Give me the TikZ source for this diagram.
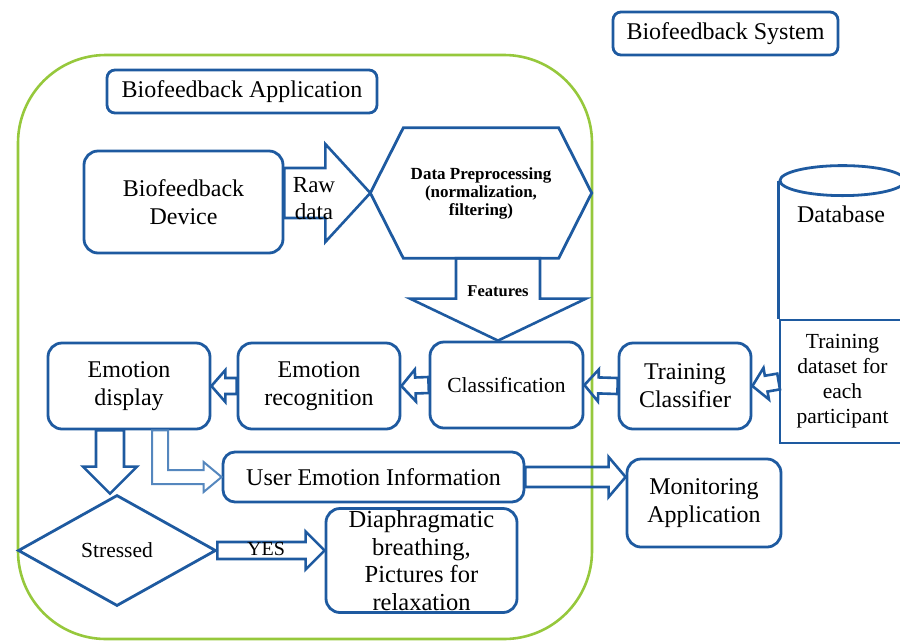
\documentclass[tikz,border=0pt]{standalone}
\usepackage{fontspec}
\setmainfont{Liberation Serif}
\usepackage{tikz}
\usetikzlibrary{
    calc,
    positioning,
    shapes.geometric
}
\definecolor{boxblue}{RGB}{30,90,160}
\definecolor{lightblue}{RGB}{85,135,190}
\definecolor{appgreen}{RGB}{150,200,60}

\newcommand{\blockarrow}[6][]{%
    \coordinate (ba-h) at ($(#3)!#6!(#2)$);
    \draw[arrowline, #1] ($(#2)!#4!90:(#3)$) -- ($(ba-h)!#4!90:(#3)$)
        -- ($(ba-h)!#5!90:(#3)$) -- (#3) -- ($(ba-h)!#5!-90:(#3)$)
        -- ($(ba-h)!#4!-90:(#3)$) -- ($(#2)!#4!-90:(#3)$) -- cycle;
}

\begin{document}
\begin{tikzpicture}[x=1pt, y=-1pt,
    box/.style={draw=boxblue, line width=2.8pt, rounded corners=14pt, align=center,
        inner sep=0pt, font=\fontsize{24}{28}\selectfont},
    boxline/.style={draw=boxblue, line width=2.8pt, line join=miter},
    arrowline/.style={draw=boxblue, line width=2.6pt, line join=miter},
    small/.style={font=\fontsize{21.5}{25}\selectfont}]
    \useasboundingbox (0,0) rectangle (900,641);
    \draw[appgreen, line width=2.6pt, rounded corners=88pt] (18,55) rectangle (592,639);

    \node[box, rounded corners=8pt, minimum width=225, minimum height=43] (sys) at (725.5,33.5) {Biofeedback System};
    \node[box, rounded corners=8pt, minimum width=270, minimum height=43] (app) at (242,91.5) {Biofeedback Application};
    \node[box, minimum width=199, minimum height=102] (dev) at (183.5,202) {Biofeedback\\Device};
    \node[minimum width=221, minimum height=130, inner sep=0pt, align=center,
        font=\bfseries\fontsize{17}{18}\selectfont] (prep) at (481,193) {Data Preprocessing\\(normalization,\\filtering)};
    \node[box, small, minimum width=153, minimum height=86] (cls) at (506.5,385) {Classification};
    \node[box, minimum width=162, minimum height=86] (rec) at (319,386) {Emotion\\recognition};
    \node[box, minimum width=162, minimum height=86] (disp) at (129,386) {Emotion\\display};
    \node[box, minimum width=132, minimum height=86] (tc) at (685,386) {Training\\Classifier};
    \node[box, small, rounded corners=0pt, minimum width=125, minimum height=123] (tds) at (842.5,381.5) {Training\\dataset for\\each\\participant};
    \node[font=\fontsize{24}{28}\selectfont] (db) at (841,214) {Database};
    \node[box, rounded corners=12pt, minimum width=301, minimum height=50] (uei) at (373.5,477) {User Emotion Information};
    \node[box, minimum width=154, minimum height=88] (mon) at (704,503) {Monitoring\\Application};
    \node[diamond, draw=boxblue, line width=2.8pt, minimum width=198, minimum height=111, inner sep=0pt,
        font=\fontsize{21.5}{24}\selectfont] (stress) at (117,550.5) {Stressed};
    \node[box, minimum width=191, minimum height=104] (relax) at (421.5,560.5) {};
    \node[align=center, font=\fontsize{24.5}{27.7}\selectfont] (relaxtxt) at (relax.center) {Diaphragmatic\\breathing,\\Pictures for\\relaxation};

    \draw[boxline] (prep.west) -- ($(prep.north west)+(33,0)$) -- ($(prep.north east)+(-33,0)$)
        -- (prep.east) -- ($(prep.south east)+(-33,0)$) -- ($(prep.south west)+(33,0)$) -- cycle;
    \draw[boxline] ($(tds.north west)+(0,-138)$) -- (tds.north west);
    \draw[boxline] ($(tds.north east)+(0,-138)$) -- (tds.north east);
    \draw[boxline] ($(tds.north)+(0,-138)$) ellipse [x radius=62.5pt, y radius=15pt];

    \coordinate (raw) at (dev.east |- prep.west);
    \blockarrow{raw}{prep.west}{25pt}{49pt}{45pt}
    \node[align=center, font=\fontsize{23}{27}\selectfont] (rawlbl) at (314,199) {Raw\\data};

    \coordinate (ftop) at ($(prep.south)+(17,0)$);
    \coordinate (fbot) at (ftop |- cls.north);
    \blockarrow{ftop}{fbot}{42pt}{88pt}{42pt}
    \node[font=\bfseries\fontsize{16.5}{18}\selectfont] (featlbl) at ($(ftop)+(0,33)$) {Features};

    \blockarrow{tds.west}{tc.east}{8pt}{16pt}{14pt}
    \blockarrow{tc.west}{cls.east}{8pt}{16pt}{14pt}
    \blockarrow{cls.west}{rec.east}{8pt}{16pt}{14pt}
    \blockarrow{rec.west}{disp.east}{8pt}{16pt}{14pt}

    \coordinate (d1) at ($(disp.south)+(-19,0)$);
    \coordinate (d2) at (d1 |- stress.north);
    \blockarrow{d1}{d2}{14pt}{27pt}{27pt}

    \coordinate (m1) at (uei.east -| mon.west);
    \blockarrow{uei.east}{m1}{10pt}{20pt}{17pt}

    \coordinate (y1) at (stress.east -| relax.west);
    \blockarrow{stress.east}{y1}{8.5pt}{19pt}{19pt}
    \node[font=\fontsize{20}{24}\selectfont] (yeslbl) at (266,549) {YES};

    \coordinate (e1) at ($(disp.south)+(31,0)$);
    \coordinate (e2) at (e1 |- uei.west);
    \draw[lightblue, line width=2pt, line join=miter] ($(e1)+(-8,0)$) -- ($(e2)+(-8,7)$)
        -- ($(uei.west)+(-18,7)$) -- ($(uei.west)+(-18,15)$) -- (uei.west)
        -- ($(uei.west)+(-18,-15)$) -- ($(uei.west)+(-18,-7)$) -- ($(e2)+(8,-7)$)
        -- ($(e1)+(8,0)$) -- cycle;
\end{tikzpicture}
\end{document}
